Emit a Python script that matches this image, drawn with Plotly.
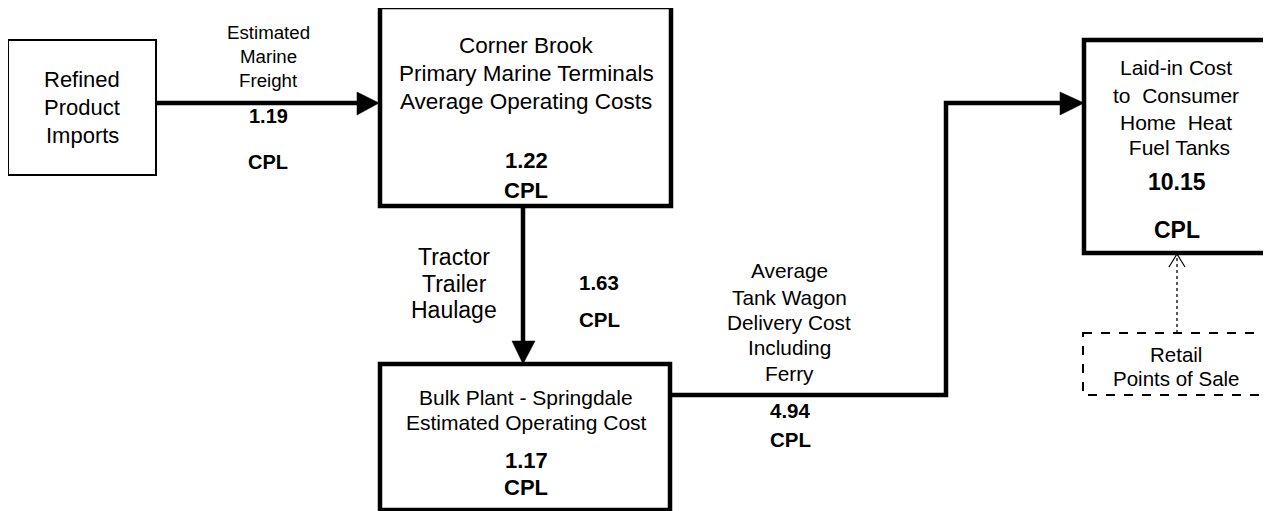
import plotly.graph_objects as go

# ---------------- data (text content and values) ----------------
node_titles = [
    ["Refined", "Product", "Imports"],
    ["Corner Brook", "Primary Marine Terminals", "Average Operating Costs"],
    ["Bulk Plant - Springdale", "Estimated Operating Cost"],
    ["Laid-in Cost", "to\u00a0 Consumer", "Home\u00a0 Heat", "\u00a0Fuel Tanks"],
    ["Retail", "Points of Sale"],
]
node_costs = [None, 1.22, 1.17, 10.15, None]

link_titles = [
    ["Estimated", "Marine", "Freight"],
    ["Tractor", "Trailer", "Haulage"],
    ["Average", "Tank Wagon", "Delivery Cost", "Including", "Ferry"],
]
link_costs = [1.19, 1.63, 4.94]
unit = "CPL"

# ---------------- layout (positions, sizes, styles) ----------------
W, H = 1271, 511
PAGE_MARGIN = 8  # default body margin of the html page
FONT = "Liberation Sans, Arial, sans-serif"

# node boxes: x0, y0, x1, y1, line width, dash
node_boxes = [
    (8, 40, 156, 175, 2, "solid"),
    (380, 7, 671, 206, 4.5, "solid"),
    (380, 364, 670, 510, 4.5, "solid"),
    (1084, 40, 1267, 253, 4.5, "solid"),
    (1083, 333, 1266, 395, 2, "dash"),
]
# node title text: center x, y of each line, font size
node_title_pos = [
    (82, [79, 107, 135], 22),
    (526, [45, 73, 101], 22.5),
    (526, [397, 422], 21),
    (1176, [67, 95, 122, 147], 21),
    (1176, [354, 378], 20.5),
]
# node cost text: center x, y of value, y of unit, font size
node_cost_pos = [None, (526, 160, 190, 22), (526, 460, 487, 22), (1177, 182, 230, 23), None]

# link title text and link cost text
link_title_pos = [
    (268, [32, 56, 80], 18.7),
    (454, [257, 284, 310], 23),
    (789, [270, 297, 322, 347, 373], 20.8),
]
link_cost_pos = [(268, 116, 162, 20), (599, 282, 319, 20.5), (790, 410, 439, 20.5)]

# connector paths and filled arrow heads
connectors = [
    ("M 156 103 L 360 103", 4.5, "solid"),
    ("M 523 206 L 523 343", 4.5, "solid"),
    ("M 672 395 L 946 395 L 946 103 L 1062 103", 4.5, "solid"),
    ("M 1177 333 L 1177 256", 1.3, "dot"),
]
heads_filled = [
    "M 357 92 L 379 103 L 357 115 Z",
    "M 512 341 L 523 364 L 535 341 Z",
    "M 1060 92 L 1084 103 L 1060 115 Z",
]
heads_open = ["M 1169 267 L 1177 254 L 1185 267"]

fig = go.Figure()

for x0, y0, x1, y1, lw, dash in node_boxes:
    fig.add_shape(type="rect", x0=x0, y0=y0, x1=x1, y1=y1, xref="x", yref="y",
                  line=dict(color="black", width=lw, dash=dash), fillcolor="white", layer="below")

for path, lw, dash in connectors:
    fig.add_shape(type="path", path=path, xref="x", yref="y",
                  line=dict(color="black", width=lw, dash=dash))
for path in heads_filled:
    fig.add_shape(type="path", path=path, xref="x", yref="y",
                  line=dict(color="black", width=0.5), fillcolor="black")
for path in heads_open:
    fig.add_shape(type="path", path=path, xref="x", yref="y",
                  line=dict(color="black", width=1.2))


def add_lines(lines, x, ys, size, bold=False):
    for line, y in zip(lines, ys):
        fig.add_annotation(x=x, y=y, xref="x", yref="y",
                           text=f"<b>{line}</b>" if bold else line,
                           showarrow=False, xanchor="center", yanchor="middle",
                           font=dict(family=FONT, size=size, color="black"))


for lines, (x, ys, size) in zip(node_titles, node_title_pos):
    add_lines(lines, x, ys, size)
for cost, pos in zip(node_costs, node_cost_pos):
    if cost is not None:
        x, yv, yu, size = pos
        add_lines([f"{cost:.2f}", unit], x, [yv, yu], size, bold=True)

for lines, (x, ys, size) in zip(link_titles, link_title_pos):
    add_lines(lines, x, ys, size)
for cost, (x, yv, yu, size) in zip(link_costs, link_cost_pos):
    add_lines([f"{cost:.2f}", unit], x, [yv, yu], size, bold=True)

# figure sits inside the page margin, so coordinates map 1:1 to window pixels
fig.update_layout(
    width=W - PAGE_MARGIN, height=H - PAGE_MARGIN,
    margin=dict(l=0, r=0, t=0, b=0),
    paper_bgcolor="white", plot_bgcolor="white",
    showlegend=False,
    xaxis=dict(range=[PAGE_MARGIN, W], visible=False, fixedrange=True),
    yaxis=dict(range=[H, PAGE_MARGIN], visible=False, fixedrange=True),
)

fig.write_html("out.html")
